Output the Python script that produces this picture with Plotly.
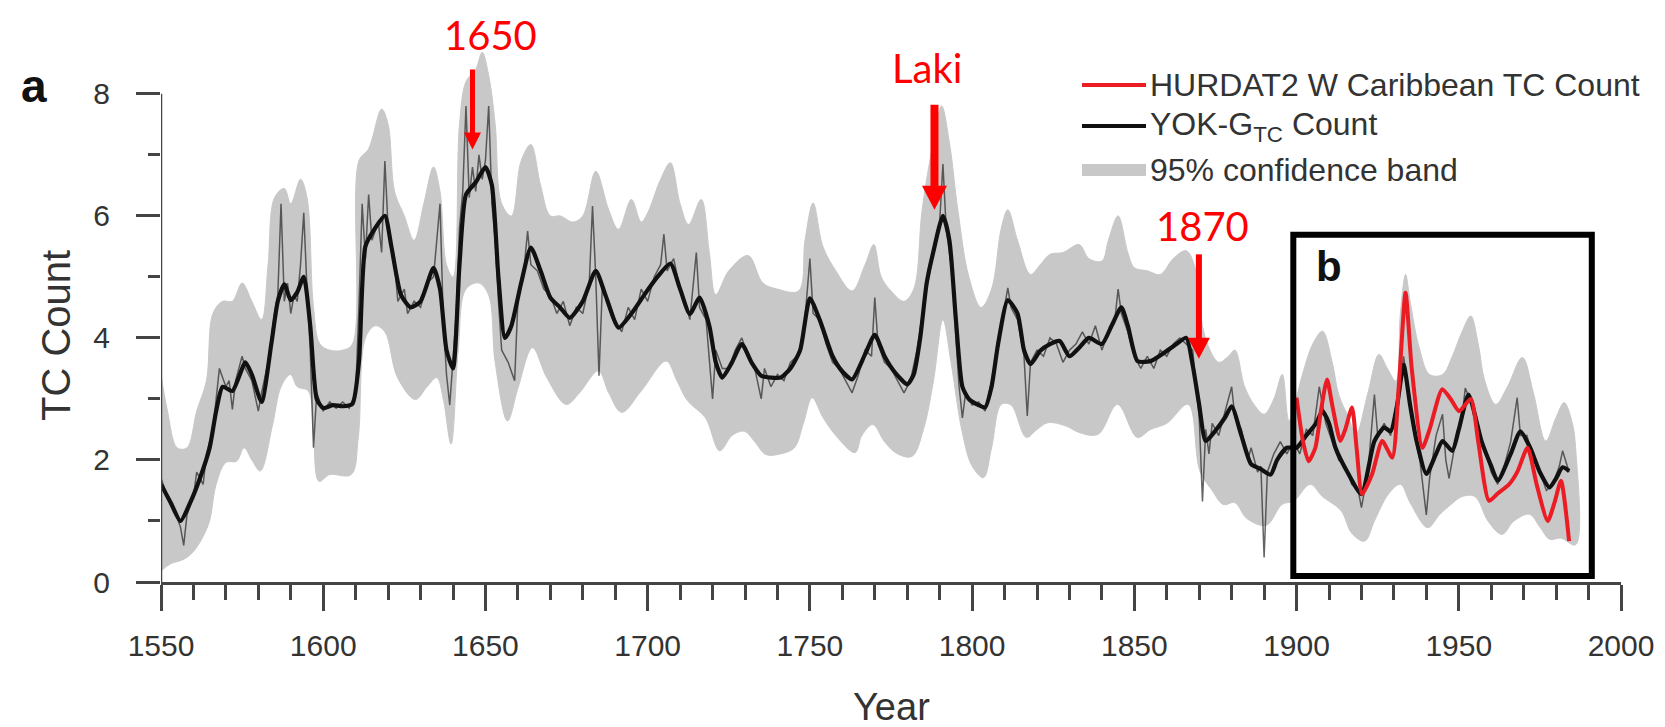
import plotly.graph_objects as go

# ---------------- data ----------------
smooth_years = [1550, 1553, 1556, 1559, 1562, 1565, 1567, 1569, 1572, 1576, 1578, 1581, 1584, 1586,
                1588, 1590, 1592, 1594, 1596, 1598, 1600, 1603, 1606, 1609, 1611, 1613, 1616, 1619,
                1621, 1624, 1627, 1630, 1634, 1636, 1638, 1640, 1642, 1644, 1647, 1650, 1652, 1654,
                1656, 1658, 1661, 1664, 1667, 1670, 1673, 1676, 1680, 1684, 1687, 1691, 1695, 1699,
                1703, 1707, 1710, 1713, 1716, 1719, 1721, 1723, 1726, 1729, 1732, 1735, 1738, 1741,
                1744, 1747, 1750, 1753, 1757, 1760, 1763, 1767, 1770, 1773, 1776, 1780, 1782, 1784,
                1786, 1788, 1791, 1793, 1795, 1797, 1799, 1802, 1804, 1806, 1808, 1811, 1814, 1816,
                1818, 1821, 1824, 1827, 1830, 1833, 1836, 1840, 1843, 1846, 1848, 1851, 1855, 1859,
                1863, 1866, 1868, 1870, 1872, 1875, 1878, 1880, 1883, 1886, 1889, 1892, 1894, 1897,
                1900, 1903, 1906, 1908, 1910, 1912, 1916, 1920, 1924, 1927, 1929, 1931, 1933, 1935,
                1937, 1940, 1943, 1945, 1948, 1950, 1953, 1957, 1960, 1962, 1966, 1969, 1972, 1975,
                1978, 1980, 1982, 1984]
smooth_vals = [1.60, 1.30, 1.00, 1.30, 1.70, 2.20, 2.80, 3.20, 3.13, 3.60, 3.40, 2.95, 3.90, 4.60,
               4.88, 4.62, 4.75, 5.00, 4.20, 3.00, 2.85, 2.90, 2.88, 2.92, 3.60, 5.50, 5.80, 6.00,
               5.50, 4.70, 4.50, 4.60, 5.15, 4.80, 3.80, 3.50, 5.20, 6.35, 6.55, 6.80, 6.50, 5.00,
               4.00, 4.20, 4.90, 5.48, 5.10, 4.66, 4.50, 4.33, 4.60, 5.10, 4.70, 4.17, 4.40, 4.71,
               5.00, 5.22, 4.80, 4.39, 4.66, 4.20, 3.60, 3.35, 3.60, 3.90, 3.60, 3.38, 3.35, 3.35,
               3.50, 3.80, 4.65, 4.30, 3.70, 3.45, 3.32, 3.73, 4.05, 3.70, 3.45, 3.24, 3.40, 4.00,
               4.90, 5.40, 6.00, 5.60, 4.30, 3.20, 3.00, 2.90, 2.86, 3.20, 3.90, 4.62, 4.40, 3.80,
               3.57, 3.79, 3.90, 3.95, 3.70, 3.84, 4.00, 3.90, 4.20, 4.50, 4.20, 3.62, 3.62, 3.75,
               3.90, 4.00, 3.55, 2.90, 2.31, 2.48, 2.70, 2.88, 2.40, 1.93, 1.85, 1.76, 2.00, 2.20,
               2.20, 2.40, 2.60, 2.80, 2.60, 2.20, 1.77, 1.44, 2.31, 2.53, 2.47, 2.90, 3.56, 2.90,
               2.31, 1.77, 2.10, 2.31, 2.15, 2.50, 3.07, 2.31, 1.90, 1.66, 2.10, 2.47, 2.20, 1.80,
               1.55, 1.70, 1.88, 1.82]

annual_years = [1550, 1552, 1554, 1556, 1557, 1558, 1560, 1561, 1563, 1564, 1566, 1567, 1568, 1570,
                1571, 1572, 1573, 1575, 1576, 1578, 1580, 1581, 1583, 1585, 1586, 1587, 1588, 1589,
                1590, 1591, 1592, 1593, 1594, 1595, 1596, 1597, 1598, 1600, 1602, 1604, 1606, 1608,
                1610, 1611, 1612, 1613, 1614, 1615, 1617, 1618, 1619, 1620, 1622, 1623, 1625, 1626,
                1628, 1630, 1632, 1634, 1636, 1637, 1638, 1639, 1640, 1641, 1642, 1643, 1644, 1645,
                1646, 1647, 1648, 1649, 1650, 1651, 1652, 1653, 1654, 1655, 1657, 1659, 1660, 1662,
                1663, 1664, 1666, 1668, 1670, 1672, 1674, 1676, 1678, 1680, 1682, 1683, 1684, 1685,
                1686, 1688, 1690, 1692, 1694, 1696, 1698, 1700, 1702, 1704, 1705, 1706, 1708, 1710,
                1712, 1713, 1715, 1716, 1718, 1720, 1721, 1723, 1725, 1727, 1729, 1731, 1733, 1735,
                1736, 1738, 1740, 1742, 1744, 1746, 1748, 1750, 1751, 1753, 1755, 1757, 1759, 1761,
                1763, 1765, 1767, 1769, 1770, 1771, 1773, 1775, 1777, 1779, 1781, 1783, 1785, 1787,
                1789, 1790, 1791, 1792, 1794, 1795, 1796, 1797, 1798, 1800, 1802, 1804, 1806, 1808,
                1810, 1811, 1812, 1814, 1816, 1817, 1818, 1820, 1822, 1824, 1826, 1828, 1830, 1832,
                1834, 1836, 1838, 1840, 1842, 1844, 1845, 1846, 1848, 1850, 1852, 1854, 1856, 1858,
                1860, 1862, 1864, 1866, 1868, 1869, 1870, 1871, 1872, 1873, 1874, 1876, 1878, 1880,
                1881, 1883, 1885, 1886, 1888, 1889, 1890, 1891, 1893, 1895, 1897, 1899, 1901, 1903,
                1905, 1907, 1909, 1911, 1913, 1915, 1917, 1919, 1920, 1922, 1924, 1925, 1927, 1929,
                1931, 1933, 1934, 1936, 1938, 1940, 1941, 1943, 1945, 1946, 1947, 1949, 1951, 1952,
                1954, 1956, 1958, 1960, 1962, 1964, 1966, 1968, 1969, 1971, 1973, 1975, 1977, 1979,
                1981, 1982, 1984]
annual_vals = [1.70, 1.40, 1.20, 0.90, 0.60, 1.10, 1.40, 1.80, 1.60, 2.10, 2.50, 3.00, 3.50, 3.20,
               3.30, 2.83, 3.30, 3.70, 3.50, 3.30, 2.80, 3.10, 3.60, 4.40, 4.70, 6.20, 4.60, 4.90,
               4.40, 4.70, 4.60, 5.20, 6.05, 4.80, 3.80, 2.20, 3.10, 2.80, 2.95, 2.85, 2.95, 2.85,
               3.10, 4.50, 6.20, 5.30, 6.35, 5.60, 5.90, 5.40, 6.90, 5.80, 5.20, 4.60, 4.80, 4.40,
               4.60, 4.50, 4.90, 5.00, 6.20, 4.30, 3.40, 2.90, 3.60, 4.40, 5.80, 6.40, 7.80, 6.30,
               6.80, 6.40, 7.00, 6.60, 6.90, 7.80, 6.20, 5.60, 4.60, 3.80, 3.60, 3.30, 4.60, 5.20,
               5.75, 5.20, 5.10, 4.80, 4.70, 4.40, 4.60, 4.20, 4.50, 4.40, 4.90, 6.16, 5.00, 3.38,
               4.80, 4.60, 4.30, 4.10, 4.50, 4.30, 4.80, 4.60, 5.00, 5.20, 5.70, 5.10, 5.30, 4.80,
               4.50, 4.30, 5.40, 4.50, 4.30, 3.00, 3.80, 3.50, 3.50, 3.80, 4.00, 3.70, 3.50, 3.00,
               3.50, 3.20, 3.40, 3.30, 3.60, 3.70, 4.00, 5.30, 4.40, 4.30, 3.90, 3.60, 3.50, 3.30,
               3.10, 3.40, 3.80, 3.70, 4.66, 3.90, 3.60, 3.50, 3.30, 3.10, 3.30, 3.80, 4.50, 5.10,
               5.70, 5.90, 6.85, 5.80, 5.00, 4.00, 3.20, 2.69, 3.10, 2.90, 2.95, 2.80, 3.30, 3.90,
               4.50, 4.82, 4.50, 4.30, 3.70, 2.72, 3.60, 3.80, 3.70, 4.00, 3.90, 3.60, 3.80, 3.90,
               4.10, 3.90, 4.20, 3.80, 4.10, 4.30, 4.80, 4.40, 4.10, 3.70, 3.50, 3.70, 3.50, 3.80,
               3.70, 3.90, 4.00, 3.90, 3.80, 3.20, 2.70, 1.32, 2.50, 2.10, 2.60, 2.40, 2.80, 3.20,
               2.70, 2.50, 2.00, 2.20, 1.80, 1.90, 0.40, 1.80, 2.10, 2.30, 2.10, 2.30, 2.10, 2.50,
               2.40, 3.20, 2.60, 2.30, 2.00, 1.90, 1.60, 1.50, 1.22, 1.80, 3.07, 2.40, 2.60, 2.40,
               3.00, 3.70, 3.30, 2.50, 2.00, 1.10, 1.70, 2.40, 2.75, 2.00, 1.70, 2.30, 2.70, 3.18,
               2.90, 2.40, 2.20, 1.80, 1.60, 1.90, 2.30, 3.02, 2.40, 2.40, 2.00, 1.80, 1.50, 1.60,
               1.90, 2.15, 1.80]

band_hi_years = [1550, 1552, 1555, 1558, 1561, 1564, 1566, 1569, 1572, 1575, 1578, 1581, 1583, 1585,
                 1588, 1590, 1593, 1595, 1597, 1599, 1602, 1606, 1609, 1611, 1614, 1618, 1620, 1622,
                 1625, 1628, 1631, 1634, 1636, 1638, 1640, 1642, 1644, 1647, 1649, 1651, 1653, 1655,
                 1658, 1661, 1664, 1667, 1670, 1673, 1677, 1680, 1684, 1688, 1691, 1695, 1698, 1700,
                 1704, 1707, 1710, 1712.6, 1716.5, 1719, 1721, 1725, 1731, 1735.5, 1740, 1746.5,
                 1748.5, 1751, 1754, 1758, 1763, 1767, 1769.7, 1772, 1775, 1779, 1782, 1784.6, 1788,
                 1790.6, 1793, 1795.6, 1799, 1802.8, 1806, 1809, 1811, 1814, 1818, 1821, 1824, 1828,
                 1833, 1836, 1840, 1842, 1845, 1848, 1850, 1854, 1858, 1862, 1866, 1869, 1871, 1873,
                 1876, 1879, 1881, 1884, 1887, 1890, 1893, 1895.6, 1897.7, 1901.8, 1905, 1908, 1911,
                 1913, 1916, 1918.3, 1922, 1925.4, 1928, 1930.6, 1932, 1933.6, 1935, 1937.8, 1941,
                 1945, 1948, 1951, 1953.7, 1956, 1958, 1961.4, 1965, 1969.6, 1973, 1976.8, 1980,
                 1982.5, 1985, 1986]
band_hi_vals = [3.40, 2.80, 2.20, 2.20, 2.80, 3.30, 4.40, 4.60, 4.60, 4.90, 4.60, 4.30, 5.20, 6.30,
                6.45, 6.20, 6.60, 6.30, 4.50, 3.90, 3.80, 3.80, 3.90, 6.90, 7.10, 7.75, 7.50, 6.40,
                6.00, 5.60, 6.20, 6.80, 6.40, 5.20, 5.00, 7.50, 8.20, 8.40, 8.68, 8.30, 7.50, 6.20,
                6.00, 6.90, 7.17, 6.50, 6.00, 6.00, 5.90, 6.00, 6.73, 6.10, 5.78, 6.27, 5.90, 6.05,
                6.60, 6.87, 6.20, 5.86, 6.27, 5.40, 4.71, 5.10, 5.35, 4.90, 4.80, 4.77,
                5.60, 6.21, 5.50, 5.10, 4.77, 5.20, 5.53, 5.00, 4.77, 4.60, 4.80, 6.10, 7.20,
                7.80, 7.20, 6.10, 5.00, 4.50, 4.80, 5.80, 6.10, 5.60, 5.04, 5.20, 5.37, 5.40,
                5.53, 5.30, 5.26, 5.60, 6.00, 5.40, 5.15, 5.10, 5.04, 5.30, 5.43, 5.10, 4.20, 3.84,
                3.60, 3.70, 3.80, 3.20, 2.90, 2.75, 3.00, 3.40, 2.64, 3.40, 3.90, 4.11, 3.60,
                3.07, 2.70, 2.42, 3.10, 3.73, 3.50, 3.29, 4.40, 5.04, 4.60, 3.84, 3.40,
                3.40, 3.70, 4.10, 4.36, 3.90, 3.30, 2.91, 3.20, 3.68, 3.10, 2.31, 2.70,
                2.94, 2.60, 2.20]

band_lo_years = [1550, 1553, 1556.9, 1560, 1564.6, 1567, 1570, 1573.3, 1575.6, 1578, 1580.6, 1584.4,
                 1587, 1589.9, 1592, 1595.4, 1597, 1598.7, 1602, 1608.6, 1610.8, 1613, 1616, 1619,
                 1622.9, 1628.4, 1632, 1635, 1637, 1639.4, 1641.6, 1644, 1648, 1651, 1653, 1656.8,
                 1660.1, 1664.5, 1668.9, 1674.9, 1679, 1684.8, 1688, 1692, 1698, 1705.7, 1709,
                 1712.3, 1717.8, 1722.2, 1726, 1729.8, 1733, 1736.4, 1741, 1745.2, 1748, 1750.7,
                 1754, 1758, 1763.9, 1766, 1769.4, 1773, 1777, 1781.5, 1785, 1788.1, 1791, 1793.5,
                 1796.9, 1800, 1803.5, 1806, 1809, 1812, 1816.7, 1820, 1823.3, 1828.8, 1833, 1838.8,
                 1844.8, 1850.9, 1855, 1860, 1866.6, 1870.2, 1874, 1877.4, 1881, 1884.7, 1890.7,
                 1895.5, 1899.2, 1904.2, 1908, 1913.7, 1917, 1921, 1924, 1928.3, 1932, 1935, 1940.4,
                 1944, 1947.6, 1951, 1955, 1959, 1963.3, 1967, 1971.8, 1975, 1978, 1981.5, 1986]
band_lo_vals = [0.18, 0.30, 0.37, 0.50, 0.94, 1.60, 1.96, 1.98, 2.20, 2.00, 1.82, 2.58,
                3.20, 3.40, 3.20, 3.13, 2.40, 1.65, 1.76, 1.76, 2.37, 4.00, 4.20, 4.10,
                3.35, 2.99, 3.20, 3.35, 3.00, 2.26, 3.80, 4.80, 4.90, 4.70, 3.60, 2.64,
                3.19, 3.84, 3.35, 2.91, 3.10, 3.46, 3.10, 2.78, 3.13, 3.62, 3.30,
                2.97, 2.69, 2.15, 2.40, 2.47, 2.30, 2.09, 2.10, 2.20, 2.60, 3.02,
                2.70, 2.40, 2.12, 2.40, 2.58, 2.30, 2.10, 2.06, 2.50, 3.30, 4.30, 3.60,
                2.47, 1.90, 1.71, 2.20, 2.91, 2.90, 2.37, 2.50, 2.61, 2.56, 2.45, 2.42,
                2.91, 2.37, 2.50, 2.60, 2.91, 1.82, 1.50, 1.27, 1.30, 1.04, 0.93,
                1.27, 1.33, 1.60, 1.40, 1.17, 0.80, 0.67, 1.00, 1.44, 1.60, 1.30, 0.89,
                1.10, 1.27, 1.40, 1.40, 1.00, 0.78, 1.00, 1.11, 0.90, 0.70, 0.72, 0.61]

hurdat_years = [1900, 1902, 1903.7, 1905.8, 1907.5, 1909.4, 1911, 1913.5, 1915, 1917.1, 1918.5,
                1920.2, 1923.3, 1926.4, 1929.5, 1931.5, 1933.6, 1935.5, 1938.8, 1941, 1944.9,
                1947.5, 1950.1, 1953.7, 1956, 1959.3, 1962, 1965.5, 1968, 1971.2, 1974, 1977.4,
                1979.5, 1981.5, 1984]
hurdat_vals = [3.02, 2.30, 1.98, 2.20, 2.80, 3.32, 2.90, 2.31, 2.50, 2.86, 2.20,
               1.44, 1.77, 2.31, 2.04, 3.20, 4.74, 3.50, 2.20, 2.50, 3.16,
               3.00, 2.80, 3.00, 2.30, 1.33, 1.45, 1.60, 1.80, 2.20, 1.60, 1.00,
               1.30, 1.66, 0.67]

x_ticks = [1550, 1600, 1650, 1700, 1750, 1800, 1850, 1900, 1950, 2000]
y_ticks = [0, 2, 4, 6, 8]

event_labels = ["1650", "Laki", "1870"]
event_years = [1646, 1788.4, 1869.9]
event_tips = [7.09, 6.10, 3.66]
event_tops = [8.40, 7.82, 5.37]

legend_labels = ["HURDAT2 W Caribbean TC Count", "YOK-G<sub>TC</sub> Count", "95% confidence band"]

# ---------------- layout geometry / styles ----------------
W, H = 1665, 727
ML, MR, MT, MB = 153, 52, 34, 153
X_RANGE = [1550, 2000]
Y_RANGE = [0, 8.85]
PLOT_W = W - ML - MR
PLOT_H = H - MT - MB
PX_X = PLOT_W / (X_RANGE[1] - X_RANGE[0])
PX_Y = PLOT_H / (Y_RANGE[1] - Y_RANGE[0])

def px_to_paper(px, py):
    return (px - ML) / PLOT_W, (H - MB - py) / PLOT_H

FONT = "Liberation Sans, Arial, sans-serif"
AX = "#444444"
BAND = "#c8c8c8"
RED_LINE = "#ec1c24"
RED_TXT = "#ff0000"

fig = go.Figure()

# confidence band polygon
fig.add_trace(go.Scatter(
    x=band_hi_years + band_lo_years[::-1],
    y=band_hi_vals + band_lo_vals[::-1],
    fill="toself", fillcolor=BAND, line=dict(color=BAND, width=1, shape="spline"),
    mode="lines", showlegend=False, hoverinfo="skip", name="95% confidence band"))

# annual thin line
fig.add_trace(go.Scatter(
    x=annual_years, y=annual_vals, mode="lines",
    line=dict(color="rgba(50,50,50,0.75)", width=1.5),
    showlegend=False, name="annual"))

# smoothed YOK-G count
fig.add_trace(go.Scatter(
    x=smooth_years, y=smooth_vals, mode="lines",
    line=dict(color="#111111", width=4.2, shape="spline", smoothing=0.6),
    showlegend=False, name="YOK-G TC Count"))

# HURDAT2
fig.add_trace(go.Scatter(
    x=hurdat_years, y=hurdat_vals, mode="lines",
    line=dict(color=RED_LINE, width=4, shape="spline", smoothing=0.6),
    showlegend=False, name="HURDAT2 W Caribbean TC Count"))

shapes = []
# y axis line only from 0 to 8
shapes.append(dict(type="line", xref="x", yref="y", x0=X_RANGE[0], x1=X_RANGE[0],
                   y0=y_ticks[0], y1=y_ticks[-1], line=dict(color=AX, width=2.5)))
# box b
shapes.append(dict(type="rect", xref="x", yref="y", x0=1899, x1=1991, y0=0.1, y1=5.69,
                   line=dict(color="black", width=6), fillcolor="rgba(0,0,0,0)"))

# red arrows
head_w = [17, 25, 22]
head_l = [17, 24, 21]
shaft_w = [5, 8, 6]
for xv, tip, top, hw_px, hl_px, sw in zip(event_years, event_tips, event_tops, head_w, head_l, shaft_w):
    hw = hw_px / 2 / PX_X
    hl = hl_px / PX_Y
    shapes.append(dict(type="line", xref="x", yref="y", x0=xv, x1=xv, y0=top, y1=tip + hl * 0.6,
                       line=dict(color=RED_TXT, width=sw)))
    shapes.append(dict(type="path", xref="x", yref="y",
                       path=f"M {xv - hw},{tip + hl} L {xv + hw},{tip + hl} L {xv},{tip} Z",
                       fillcolor=RED_TXT, line=dict(color=RED_TXT, width=0)))

# manual legend
leg_rows_px = [77, 118, 162]
leg_colors = [RED_LINE, "#111111", BAND]
leg_widths = [4, 4, 12]
ann = []
for lab, ry, col, lw in zip(legend_labels, leg_rows_px, leg_colors, leg_widths):
    x0p, yp = px_to_paper(1074, ry)
    x1p, _ = px_to_paper(1138, ry)
    shapes.append(dict(type="line", xref="paper", yref="paper", x0=x0p, x1=x1p, y0=yp, y1=yp,
                       line=dict(color=col, width=lw)))
    xt, _ = px_to_paper(1140, ry)
    ann.append(dict(xref="paper", yref="paper", x=xt, y=yp, text=lab, showarrow=False,
                    xanchor="left", yanchor="middle", font=dict(family=FONT, size=32, color="#333333")))

# event labels (top edge of each text box, in px)
label_px = [(482, 1), (919, 34), (1194, 192)]
for lab, (lx, ly) in zip(event_labels, label_px):
    xp, yp = px_to_paper(lx, ly)
    ann.append(dict(xref="paper", yref="paper", x=xp, y=yp, text=lab, showarrow=False,
                    xanchor="center", yanchor="top",
                    font=dict(family="Lato, Carlito, sans-serif", size=40, color=RED_TXT)))

# panel letters
xa, ya = px_to_paper(26, 78)
ann.append(dict(xref="paper", yref="paper", x=xa, y=ya, text="<b>a</b>", showarrow=False,
                xanchor="center", yanchor="middle", font=dict(family=FONT, size=46, color="#111111")))
xb, yb = px_to_paper(1321, 258)
ann.append(dict(xref="paper", yref="paper", x=xb, y=yb, text="<b>b</b>", showarrow=False,
                xanchor="center", yanchor="middle", font=dict(family=FONT, size=42, color="#111111")))

# axis titles
xt_, yt_ = px_to_paper(883, 722)
ann.append(dict(xref="paper", yref="paper", x=xt_, y=yt_, text="Year", showarrow=False,
                xanchor="center", yanchor="bottom", font=dict(family=FONT, size=38, color="#333333")))
xt_, yt_ = px_to_paper(48, 328)
ann.append(dict(xref="paper", yref="paper", x=xt_, y=yt_, text="TC Count", showarrow=False,
                textangle=-90, xanchor="center", yanchor="middle",
                font=dict(family=FONT, size=40, color="#333333")))

fig.update_layout(
    width=W, height=H,
    margin=dict(l=ML, r=MR, t=MT, b=MB),
    paper_bgcolor="white", plot_bgcolor="white",
    showlegend=False,
    shapes=shapes, annotations=ann,
    xaxis=dict(range=X_RANGE, tickvals=x_ticks, ticks="outside", ticklen=26, tickwidth=2.5,
               tickcolor=AX, showline=True, linecolor=AX, linewidth=2.5, showgrid=False,
               zeroline=False, ticklabelstandoff=9,
               tickfont=dict(family=FONT, size=30, color="#333333"),
               minor=dict(dtick=10, tick0=1550, ticks="outside", ticklen=15, tickwidth=2.5,
                          tickcolor=AX, showgrid=False)),
    yaxis=dict(range=Y_RANGE, tickvals=y_ticks, ticks="outside", ticklen=24, tickwidth=2.5,
               tickcolor=AX, showline=False, showgrid=False, zeroline=False,
               ticklabelstandoff=20,
               tickfont=dict(family=FONT, size=30, color="#333333"),
               minor=dict(tickvals=[1, 3, 5, 7], ticks="outside", ticklen=12, tickwidth=2.5,
                          tickcolor=AX, showgrid=False)),
)

fig.write_html("out.html")
